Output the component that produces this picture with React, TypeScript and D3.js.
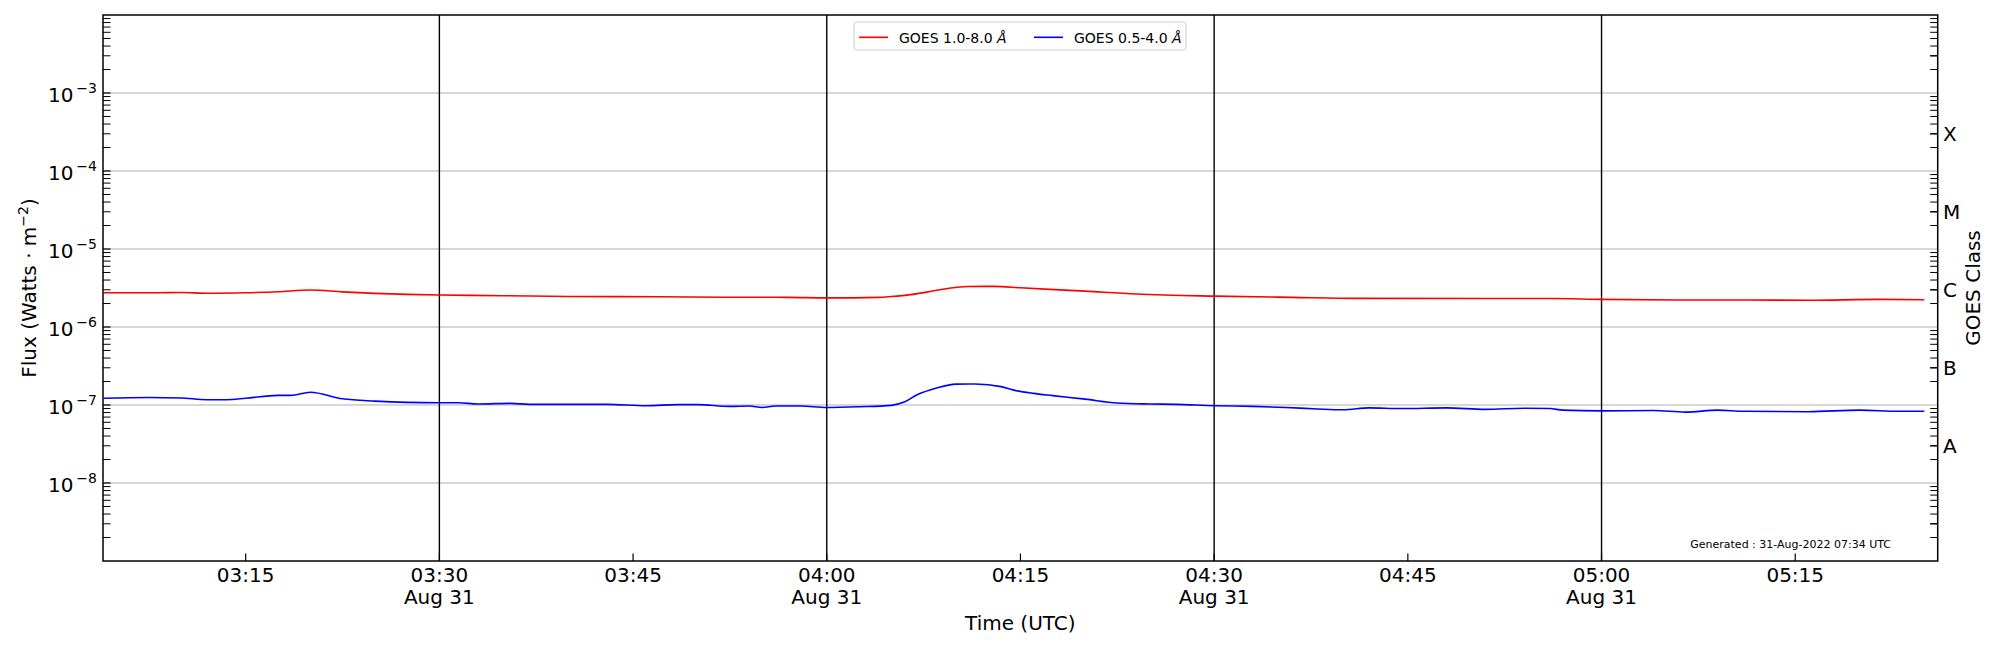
import React from 'react';
import * as d3 from 'd3';

// ---- data (minutes after 03:00 UTC, 31 Aug 2022) ----
const redMinutes = [4, 8, 10, 12, 15, 17.5, 20, 22.5, 25, 27.5, 30, 35, 40, 47, 52, 57, 60, 64, 65, 66.5, 68, 69, 71, 73, 75, 80, 84, 90, 96, 101, 111, 116, 120, 126, 131, 136, 141.5, 145];
const redFlux = [2.75e-6, 2.75e-6, 2.77e-6, 2.71e-6, 2.75e-6, 2.83e-6, 2.98e-6, 2.82e-6, 2.70e-6, 2.62e-6, 2.57e-6, 2.52e-6, 2.46e-6, 2.44e-6, 2.41e-6, 2.40e-6, 2.36e-6, 2.40e-6, 2.46e-6, 2.60e-6, 2.85e-6, 3.05e-6, 3.30e-6, 3.32e-6, 3.18e-6, 2.88e-6, 2.65e-6, 2.49e-6, 2.40e-6, 2.33e-6, 2.32e-6, 2.32e-6, 2.26e-6, 2.22e-6, 2.22e-6, 2.20e-6, 2.26e-6, 2.24e-6];

const blueMinutes = [4, 7.5, 10, 12, 13.5, 15, 17.5, 18.5, 20, 22.5, 25, 27.5, 30, 31.5, 33, 35.5, 37, 43, 46, 48.5, 50, 52.5, 54, 55, 56, 58, 60, 62.5, 65, 66, 67, 68.5, 70, 71.5, 73.5, 74.5, 76, 77.5, 80, 82.5, 85, 87, 90, 93, 95.5, 98, 100, 102, 104.5, 108, 111, 114, 116, 117, 120, 124, 126.5, 129, 131, 136, 140, 143, 145];
const blueFlux = [1.22e-7, 1.25e-7, 1.23e-7, 1.17e-7, 1.17e-7, 1.22e-7, 1.33e-7, 1.33e-7, 1.46e-7, 1.20e-7, 1.12e-7, 1.08e-7, 1.07e-7, 1.07e-7, 1.03e-7, 1.05e-7, 1.02e-7, 1.02e-7, 0.98e-7, 1.01e-7, 1.01e-7, 0.96e-7, 0.97e-7, 0.93e-7, 0.97e-7, 0.97e-7, 0.93e-7, 0.95e-7, 0.99e-7, 1.09e-7, 1.35e-7, 1.65e-7, 1.85e-7, 1.86e-7, 1.72e-7, 1.55e-7, 1.41e-7, 1.32e-7, 1.19e-7, 1.06e-7, 1.03e-7, 1.02e-7, 0.98e-7, 0.96e-7, 0.93e-7, 0.89e-7, 0.87e-7, 0.92e-7, 0.90e-7, 0.92e-7, 0.88e-7, 0.91e-7, 0.90e-7, 0.86e-7, 0.84e-7, 0.85e-7, 0.81e-7, 0.86e-7, 0.83e-7, 0.82e-7, 0.86e-7, 0.83e-7, 0.83e-7];

const xTickLabels = ['03:15', '03:30', '03:45', '04:00', '04:15', '04:30', '04:45', '05:00', '05:15'];
const dateLabel = 'Aug 31';
const markerLines = ['03:30', '04:00', '04:30', '05:00'];
const yExponents = [-8, -7, -6, -5, -4, -3];
const goesClassLabels = ['', 'A', 'B', 'C', 'M', 'X', ''];
const goesClassValues = [3e-9, 3e-8, 3e-7, 3e-6, 3e-5, 3e-4, 3e-3];
const seriesNames = ['GOES 1.0-8.0 ', 'GOES 0.5-4.0 '];
const generatedText = 'Generated : 31-Aug-2022 07:34 UTC';

const DAY = '2022-08-31T';
const base = new Date(DAY + '03:00:00Z').getTime();
const minToDate = (m: number) => new Date(base + m * 60000);
const hm = (s: string) => new Date(DAY + s + ':00Z');

const FONT = '"DejaVu Sans", sans-serif';

export default function App() {
  const W = 2000, H = 650;
  const L = 103, R = 1937.7, T = 15, B = 561;
  const x = d3.scaleUtc().domain([new Date(DAY + '03:03:57Z'), new Date(DAY + '05:26:02Z')]).range([L, R]);
  const y = d3.scaleLog().domain([1e-9, 1e-2]).range([B, T]);

  const line = d3.line<[number, number]>()
    .x(d => x(minToDate(d[0])))
    .y(d => y(d[1]))
    .curve(d3.curveMonotoneX);
  const redPath = line(redMinutes.map((m, i) => [m, redFlux[i]] as [number, number])) || '';
  const bluePath = line(blueMinutes.map((m, i) => [m, blueFlux[i]] as [number, number])) || '';

  const minor: number[] = [];
  for (let e = -9; e < -2; e++) {
    for (let k = 2; k <= 9; k++) minor.push(k * Math.pow(10, e));
  }
  const TL = 7.5;

  return (
    <svg width={W} height={H} style={{ position: 'absolute', left: 0, top: 0, background: '#fff' }} fontFamily={FONT}>
      <rect x={0} y={0} width={W} height={H} fill="#fff" />
      <defs>
        <clipPath id="plot"><rect x={L} y={T} width={R - L} height={B - T} /></clipPath>
      </defs>
      {/* grid */}
      {yExponents.map(e => (
        <line key={'g' + e} x1={L} x2={R} y1={y(Math.pow(10, e))} y2={y(Math.pow(10, e))} stroke="#b0b0b0" strokeWidth={1.2} />
      ))}
      {/* vertical marker lines */}
      {markerLines.map(s => (
        <line key={'v' + s} x1={x(hm(s))} x2={x(hm(s))} y1={T} y2={B} stroke="#000" strokeWidth={1.4} />
      ))}
      {/* data */}
      <g clipPath="url(#plot)">
        <path d={redPath} fill="none" stroke="#ff0000" strokeWidth={1.6} />
        <path d={bluePath} fill="none" stroke="#0000ff" strokeWidth={1.6} />
      </g>
      {/* left ticks */}
      {yExponents.map(e => (
        <line key={'lt' + e} x1={L} x2={L + TL} y1={y(Math.pow(10, e))} y2={y(Math.pow(10, e))} stroke="#000" strokeWidth={1.2} />
      ))}
      {minor.map((v, i) => (
        <g key={'mn' + i}>
          <line x1={L} x2={L + TL} y1={y(v)} y2={y(v)} stroke="#000" strokeWidth={1} />
          <line x1={R} x2={R - TL} y1={y(v)} y2={y(v)} stroke="#000" strokeWidth={1} />
        </g>
      ))}
      {goesClassValues.map((v, i) => (
        <line key={'rt' + i} x1={R} x2={R - TL} y1={y(v)} y2={y(v)} stroke="#000" strokeWidth={1.2} />
      ))}
      {/* bottom ticks */}
      {xTickLabels.map(s => (
        <line key={'xt' + s} x1={x(hm(s))} x2={x(hm(s))} y1={B} y2={B - TL} stroke="#000" strokeWidth={1.2} />
      ))}
      {/* frame */}
      <rect x={L} y={T} width={R - L} height={B - T} fill="none" stroke="#000" strokeWidth={1.5} />
      {/* y tick labels */}
      {yExponents.map(e => (
        <text key={'yl' + e} x={97} y={y(Math.pow(10, e)) + 9} textAnchor="end" fontSize={20} fill="#000">
          10<tspan dx={3} dy={-9} fontSize={14}>{'\u2212' + Math.abs(e)}</tspan>
        </text>
      ))}
      {/* x tick labels */}
      {xTickLabels.map(s => (
        <g key={'xl' + s}>
          <text x={x(hm(s))} y={581.7} textAnchor="middle" fontSize={20} fill="#000">{s}</text>
          {(s.endsWith(':00') || s.endsWith(':30')) && (
            <text x={x(hm(s))} y={604.3} textAnchor="middle" fontSize={20} fill="#000">{dateLabel}</text>
          )}
        </g>
      ))}
      {/* right class labels */}
      {goesClassValues.map((v, i) => goesClassLabels[i] ? (
        <text key={'cl' + i} x={1943} y={y(v) + 7.4} fontSize={20} fill="#000">{goesClassLabels[i]}</text>
      ) : null)}
      {/* axis titles */}
      <text x={(L + R) / 2} y={630} textAnchor="middle" fontSize={20} fill="#000">Time (UTC)</text>
      <text transform={`translate(36,${(T + B) / 2}) rotate(-90)`} textAnchor="middle" fontSize={20} fill="#000">
        Flux (Watts · m<tspan dy={-8} fontSize={14}>{'\u22122'}</tspan><tspan dy={8}>)</tspan>
      </text>
      <text transform={`translate(1980,${(T + B) / 2}) rotate(-90)`} textAnchor="middle" fontSize={20} fill="#000">GOES Class</text>
      {/* generated */}
      <text x={1891} y={548.3} textAnchor="end" fontSize={11} fill="#000">{generatedText}</text>
      {/* legend */}
      <g>
        <rect x={854} y={22} width={332} height={28} rx={3} fill="#fff" fillOpacity={0.8} stroke="#cccccc" strokeWidth={1} />
        <line x1={859} x2={888} y1={37.3} y2={37.3} stroke="#ff0000" strokeWidth={1.6} />
        <text x={899} y={42.5} fontSize={14} fill="#000">{seriesNames[0]}<tspan fontStyle="italic">Å</tspan></text>
        <line x1={1034} x2={1063} y1={37.3} y2={37.3} stroke="#0000ff" strokeWidth={1.6} />
        <text x={1074} y={42.5} fontSize={14} fill="#000">{seriesNames[1]}<tspan fontStyle="italic">Å</tspan></text>
      </g>
    </svg>
  );
}
